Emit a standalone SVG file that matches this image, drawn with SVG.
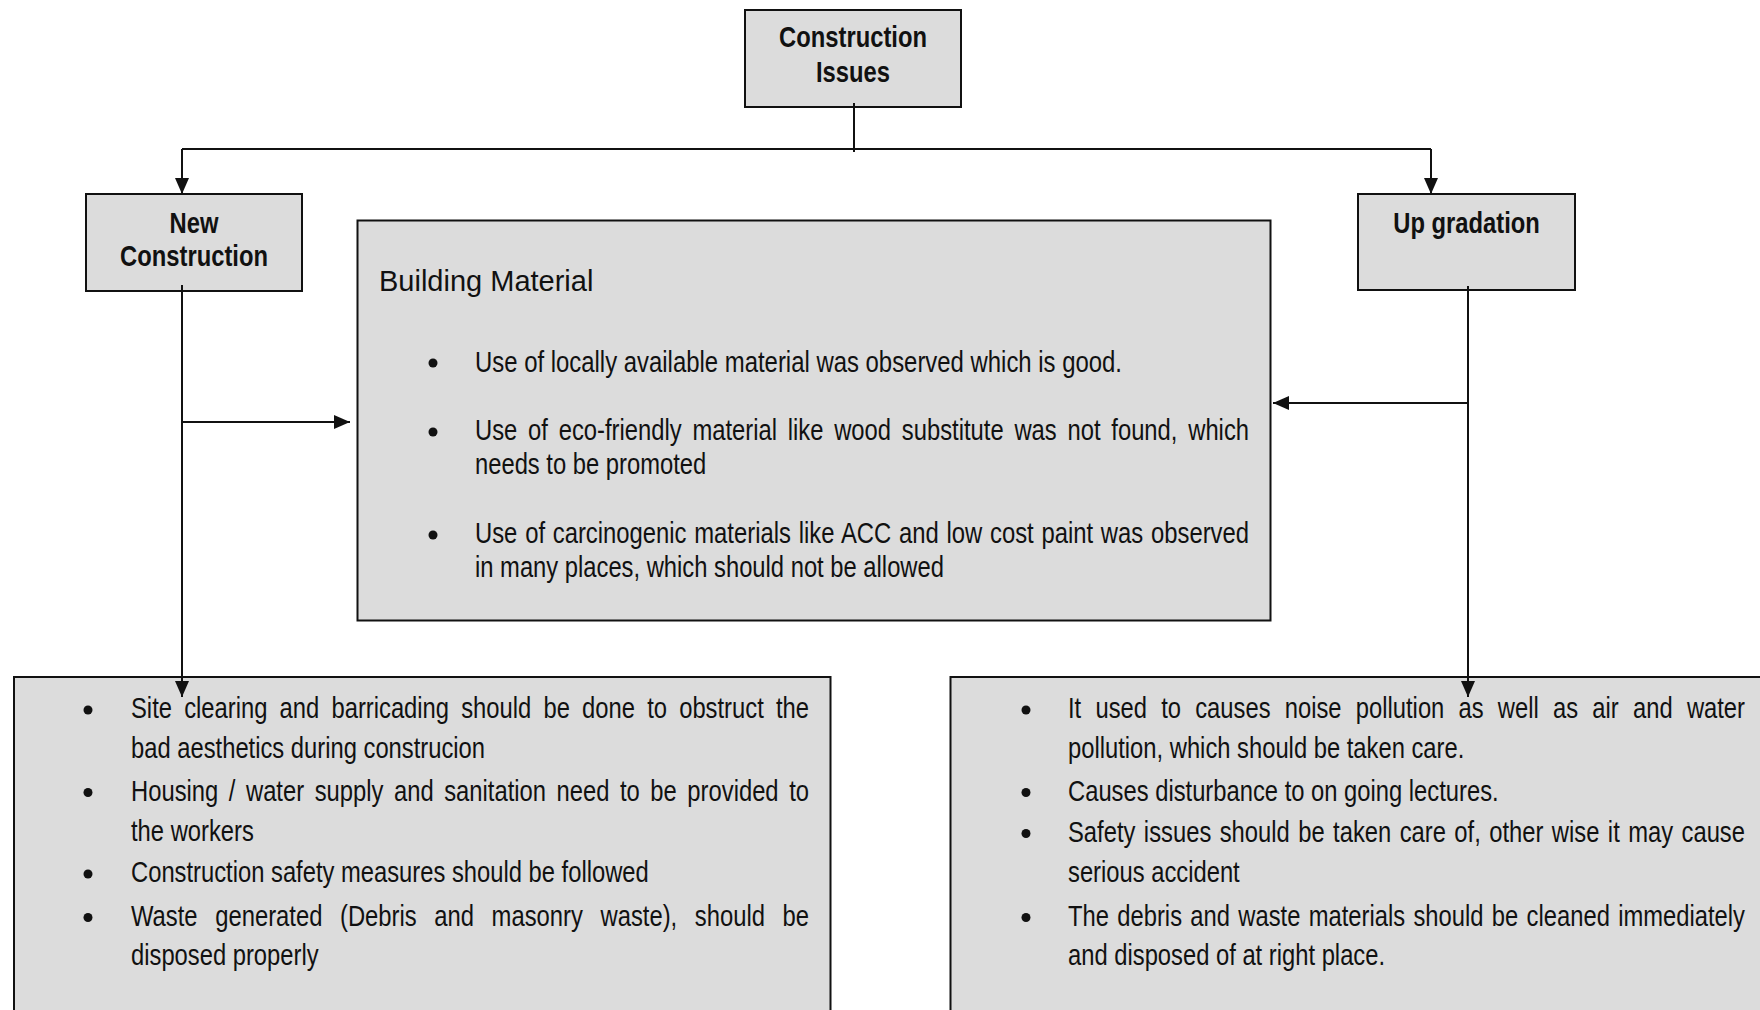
<svg xmlns="http://www.w3.org/2000/svg" width="1760" height="1010" viewBox="0 0 1760 1010">
<defs>
<style>
.box{fill:#dcdcdc;stroke:#111;stroke-width:2}
.lbl{font-family:"Liberation Sans",Arial,sans-serif;font-weight:bold;font-size:29px;fill:#111;text-anchor:middle}
.txt{font-family:"Liberation Sans",Arial,sans-serif;font-size:29px;fill:#111}
.hdr{font-family:"Liberation Sans",Arial,sans-serif;font-size:29px;fill:#111}
.bul{fill:#111}
.ln{fill:none;stroke:#111;stroke-width:2}
</style>
<marker id="ah" viewBox="0 0 16 14" refX="16" refY="7" markerWidth="16" markerHeight="14" markerUnits="userSpaceOnUse" orient="auto">
<path d="M0,0 L16,7 L0,14 Z" fill="#111"/>
</marker>
</defs>
<rect width="1760" height="1010" fill="#fff"/>

<g id="construction-issues">
<rect class="box" x="745" y="10" width="216" height="97"/>
<text class="lbl" transform="translate(853 47) scale(0.82 1)">Construction</text>
<text class="lbl" transform="translate(853 82) scale(0.82 1)">Issues</text>
</g>

<g id="new-construction">
<rect class="box" x="86" y="194" width="216" height="97"/>
<text class="lbl" transform="translate(194 233) scale(0.82 1)">New</text>
<text class="lbl" transform="translate(194 266) scale(0.82 1)">Construction</text>
</g>

<g id="up-gradation">
<rect class="box" x="1358" y="194" width="217" height="96"/>
<text class="lbl" transform="translate(1466.5 233) scale(0.82 1)">Up gradation</text>
</g>

<g id="building-material">
<rect class="box" x="357.5" y="220.5" width="913" height="400"/>
<text class="hdr" x="379" y="291">Building Material</text>
<circle class="bul" cx="433" cy="363" r="4.5"/>
<text class="txt" transform="translate(475 371.5) scale(0.82 1)" textLength="789" lengthAdjust="spacingAndGlyphs">Use of locally available material was observed which is good.</text>
<circle class="bul" cx="433" cy="432" r="4.5"/>
<text class="txt" transform="translate(475 440) scale(0.82 1)" word-spacing="5.1" textLength="943.9" lengthAdjust="spacingAndGlyphs">Use of eco-friendly material like wood substitute was not found, which</text>
<text class="txt" transform="translate(475 474) scale(0.82 1)">needs to be promoted</text>
<circle class="bul" cx="433" cy="535" r="4.5"/>
<text class="txt" transform="translate(475 543) scale(0.82 1)" word-spacing="1.4" textLength="943.9" lengthAdjust="spacingAndGlyphs">Use of carcinogenic materials like ACC and low cost paint was observed</text>
<text class="txt" transform="translate(475 577) scale(0.82 1)">in many places, which should not be allowed</text>
</g>

<g id="new-construction-issues">
<rect class="box" x="14" y="677" width="816.5" height="345"/>
<circle class="bul" cx="88" cy="710" r="4.5"/>
<text class="txt" transform="translate(131 718) scale(0.82 1)" word-spacing="6.8" textLength="826.8" lengthAdjust="spacingAndGlyphs">Site clearing and barricading should be done to obstruct the</text>
<text class="txt" transform="translate(131 757.5) scale(0.82 1)">bad aesthetics during construcion</text>
<circle class="bul" cx="88" cy="792.5" r="4.5"/>
<text class="txt" transform="translate(131 800.5) scale(0.82 1)" word-spacing="4.8" textLength="826.8" lengthAdjust="spacingAndGlyphs">Housing / water supply and sanitation need to be provided to</text>
<text class="txt" transform="translate(131 840.5) scale(0.82 1)">the workers</text>
<circle class="bul" cx="88" cy="874" r="4.5"/>
<text class="txt" transform="translate(131 882) scale(0.82 1)">Construction safety measures should be followed</text>
<circle class="bul" cx="88" cy="917.5" r="4.5"/>
<text class="txt" transform="translate(131 925.5) scale(0.82 1)" word-spacing="13.3" textLength="826.8" lengthAdjust="spacingAndGlyphs">Waste generated (Debris and masonry waste), should be</text>
<text class="txt" transform="translate(131 964.5) scale(0.82 1)">disposed properly</text>
</g>

<g id="upgradation-issues">
<rect class="box" x="950.5" y="677" width="830" height="345"/>
<circle class="bul" cx="1026" cy="710" r="4.5"/>
<text class="txt" transform="translate(1068 718) scale(0.82 1)" word-spacing="9.3" textLength="825.6" lengthAdjust="spacingAndGlyphs">It used to causes noise pollution as well as air and water</text>
<text class="txt" transform="translate(1068 757.5) scale(0.82 1)">pollution, which should be taken care.</text>
<circle class="bul" cx="1026" cy="792.5" r="4.5"/>
<text class="txt" transform="translate(1068 800.5) scale(0.82 1)">Causes disturbance to on going lectures.</text>
<circle class="bul" cx="1026" cy="833.5" r="4.5"/>
<text class="txt" transform="translate(1068 841.5) scale(0.82 1)" word-spacing="2.2" textLength="825.6" lengthAdjust="spacingAndGlyphs">Safety issues should be taken care of, other wise it may cause</text>
<text class="txt" transform="translate(1068 882) scale(0.82 1)">serious accident</text>
<circle class="bul" cx="1026" cy="917.5" r="4.5"/>
<text class="txt" transform="translate(1068 925.5) scale(0.82 1)" word-spacing="2.1" textLength="825.6" lengthAdjust="spacingAndGlyphs">The debris and waste materials should be cleaned immediately</text>
<text class="txt" transform="translate(1068 965) scale(0.82 1)">and disposed of at right place.</text>
</g>

<g id="connectors">
<path class="ln" d="M854,103 V152"/>
<path class="ln" d="M182,149 H1431"/>
<path class="ln" d="M182,149 V194" marker-end="url(#ah)"/>
<path class="ln" d="M1431,149 V194" marker-end="url(#ah)"/>
<path class="ln" d="M182,285 V697" marker-end="url(#ah)"/>
<path class="ln" d="M182,422 H350" marker-end="url(#ah)"/>
<path class="ln" d="M1468,286 V697" marker-end="url(#ah)"/>
<path class="ln" d="M1467,403 H1273" marker-end="url(#ah)"/>
</g>
</svg>
